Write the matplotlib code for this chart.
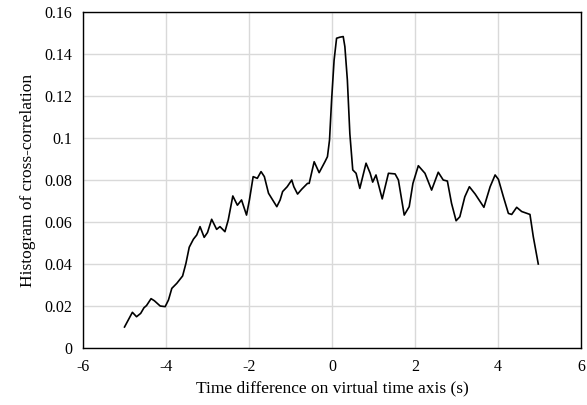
import matplotlib.pyplot as plt

# time lag (s) and normalised cross-correlation histogram value
lag = [
    -5.00, -4.81, -4.71, -4.61, -4.53, -4.47, -4.36, -4.28, -4.14, -4.02,
    -3.94, -3.86, -3.74, -3.60, -3.52, -3.44, -3.34, -3.26, -3.18, -3.08,
    -3.00, -2.90, -2.78, -2.70, -2.58, -2.50, -2.39, -2.28, -2.18, -2.06,
    -1.99, -1.90, -1.80, -1.71, -1.63, -1.53, -1.43, -1.33, -1.25, -1.19,
    -1.08, -0.97, -0.92, -0.83, -0.73, -0.59, -0.55, -0.43, -0.31, -0.17,
    -0.11, -0.06, -0.01, 0.05, 0.11, 0.19, 0.27, 0.31, 0.37, 0.43,
    0.50, 0.58, 0.67, 0.74, 0.82, 0.92, 0.98, 1.06, 1.21, 1.36,
    1.52, 1.60, 1.74, 1.86, 1.95, 2.08, 2.24, 2.40, 2.56, 2.68,
    2.78, 2.88, 2.99, 3.08, 3.20, 3.31, 3.45, 3.66, 3.81, 3.93,
    4.01, 4.13, 4.25, 4.33, 4.45, 4.57, 4.77, 4.85, 4.97,
]
hist = [
    0.0100, 0.0170, 0.0149, 0.0165, 0.0192, 0.0202, 0.0235, 0.0225, 0.0200, 0.0197,
    0.0229, 0.0284, 0.0308, 0.0343, 0.0403, 0.0480, 0.0518, 0.0538, 0.0578, 0.0527,
    0.0550, 0.0613, 0.0565, 0.0578, 0.0554, 0.0610, 0.0724, 0.0680, 0.0705, 0.0633,
    0.0705, 0.0816, 0.0808, 0.0840, 0.0816, 0.0737, 0.0705, 0.0673, 0.0705, 0.0745,
    0.0768, 0.0800, 0.0768, 0.0733, 0.0756, 0.0784, 0.0784, 0.0887, 0.0835, 0.0887,
    0.0911, 0.0990, 0.1180, 0.1370, 0.1475, 0.1480, 0.1483, 0.1435, 0.1276, 0.1020,
    0.0848, 0.0832, 0.0760, 0.0816, 0.0880, 0.0832, 0.0790, 0.0824, 0.0710, 0.0832,
    0.0829, 0.0800, 0.0633, 0.0673, 0.0784, 0.0868, 0.0832, 0.0752, 0.0837, 0.0800,
    0.0795, 0.0689, 0.0606, 0.0625, 0.0720, 0.0768, 0.0733, 0.0670, 0.0768, 0.0824,
    0.0803, 0.0720, 0.0641, 0.0636, 0.0670, 0.0650, 0.0636, 0.0530, 0.0400,
]

x_ticks = [-6, -4, -2, 0, 2, 4, 6]
y_ticks = [0, 0.02, 0.04, 0.06, 0.08, 0.1, 0.12, 0.14, 0.16]
y_tick_labels = ["0", "0.02", "0.04", "0.06", "0.08", "0.1", "0.12", "0.14", "0.16"]

plt.rcParams["font.family"] = ["Liberation Serif", "DejaVu Serif"]
plt.rcParams["axes.unicode_minus"] = False

fig = plt.figure(figsize=(5.87, 4.05), dpi=100)
ax = fig.add_axes([0.1414, 0.1407, 0.8484, 0.8297])

ax.plot(lag, hist, color="black", linewidth=1.2, solid_joinstyle="round")

ax.set_xlim(-6, 6)
ax.set_ylim(0, 0.16)
ax.set_xticks(x_ticks)
ax.set_yticks(y_ticks)
ax.set_yticklabels(y_tick_labels)
ax.tick_params(length=0, labelsize=11.5, pad=8)
ax.grid(True, color="#d9d9d9", linewidth=1.0)
ax.set_axisbelow(True)
for spine in ax.spines.values():
    spine.set_color("black")
    spine.set_linewidth(1.0)

ax.set_xlabel("Time difference on virtual time axis (s)", fontsize=12.5, labelpad=4)
ax.set_ylabel("Histogram of cross-correlation", fontsize=12.5, labelpad=6)

fig.savefig("out.png", dpi=100)
